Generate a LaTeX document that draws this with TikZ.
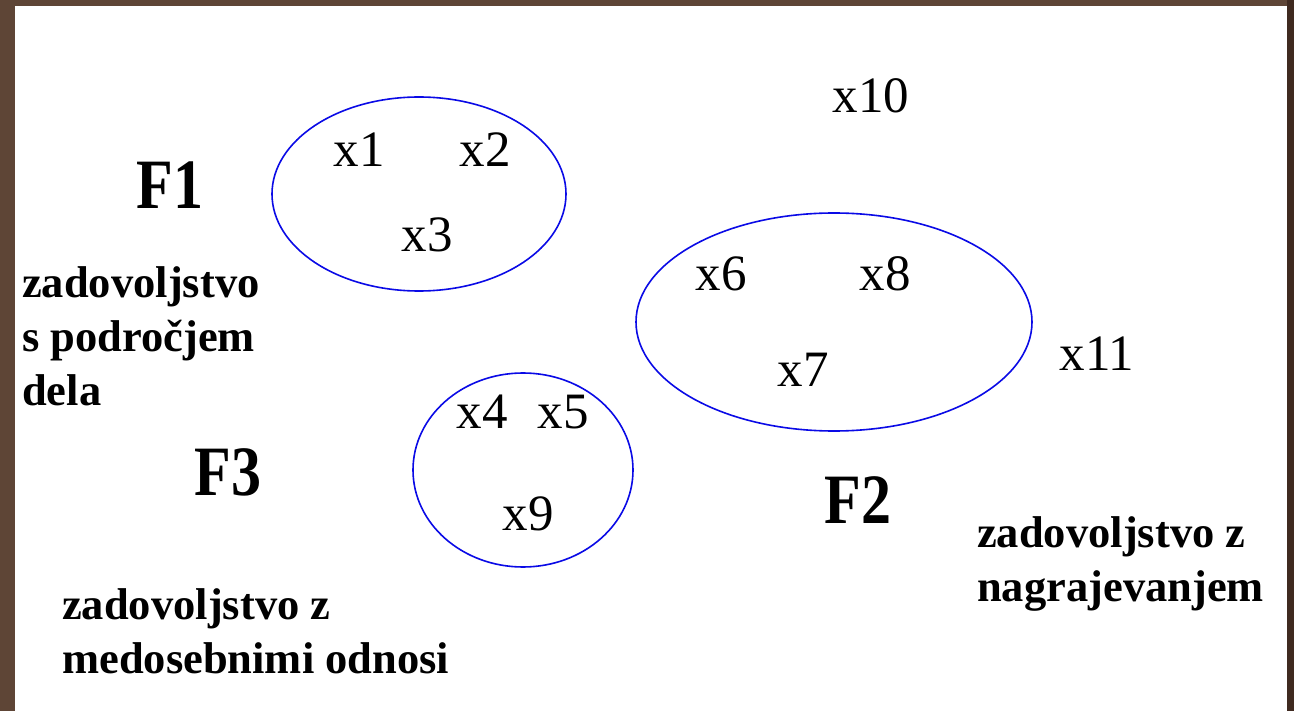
\documentclass[tikz,border=0pt]{standalone}
\usepackage{fontspec}
\setmainfont{Liberation Serif}
\definecolor{frame}{HTML}{5E4536}
\definecolor{frameR}{HTML}{3F2A20}
\definecolor{ellblue}{HTML}{0A0AE6}
\begin{document}
\begin{tikzpicture}[x=1pt,y=-1pt,
  var/.style={font=\fontsize{51}{51}\selectfont, inner sep=0pt},
  fac/.style={font=\fontsize{60}{60}\selectfont\bfseries, inner sep=0pt, yscale=1.18},
  lab/.style={font=\fontsize{44.5}{54}\selectfont\bfseries, inner sep=0pt, align=left, anchor=north west},
  clus/.style={draw=ellblue, line width=1.6pt}]
\useasboundingbox (0,0) rectangle (1294,711);
\fill[frame] (0,0) rectangle (1294,711);
\fill[frameR] (1287,0) rectangle (1294,711);
\fill[white] (15,6) rectangle (1287,711);
% clusters
\draw[clus] (419,194) ellipse [x radius=147, y radius=97];
\draw[clus] (834,322) ellipse [x radius=198, y radius=109];
\draw[clus] (523,470) ellipse [x radius=110, y radius=97];
% variables
\node[var] (x1) at (359,150) {x1};
\node[var] (x2) at (485,150) {x2};
\node[var] (x3) at (427,235) {x3};
\node[var] (x10) at (871,96) {x10};
\node[var] (x6) at (721,274) {x6};
\node[var] (x8) at (885,274) {x8};
\node[var] (x7) at (803,370) {x7};
\node[var] (x11) at (1097,354) {x11};
\node[var] (x4) at (482,412) {x4};
\node[var] (x5) at (563,412) {x5};
\node[var] (x9) at (528,514) {x9};
% factors
\node[fac] (F1) at (170,185) {F1};
\node[fac] (F3) at (228,472) {F3};
\node[fac] (F2) at (858,500) {F2};
% labels
\node[lab] (L1) at (22,266) {zadovoljstvo\\s področjem\\dela};
\node[lab] (L3) at (62,588) {zadovoljstvo z\\medosebnimi odnosi};
\node[lab] (L2) at (977,516) {zadovoljstvo z\\nagrajevanjem};
\end{tikzpicture}
\end{document}
